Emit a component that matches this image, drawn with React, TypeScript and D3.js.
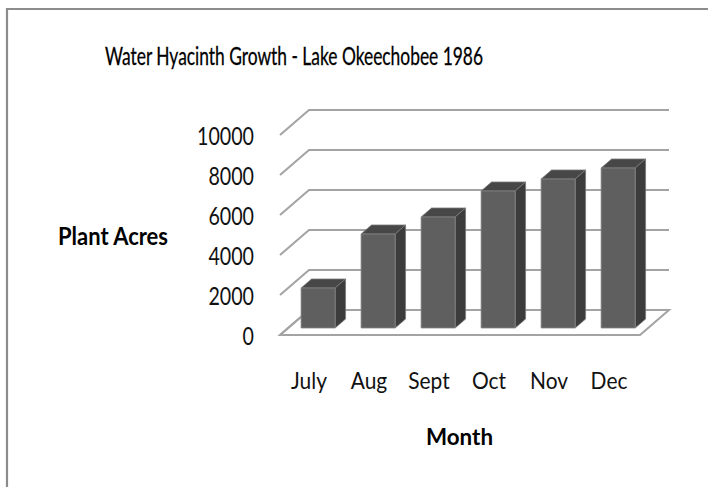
import React, { useEffect, useRef } from 'react';
import * as d3 from 'd3';

const months = ['July', 'Aug', 'Sept', 'Oct', 'Nov', 'Dec'];
const acres = [2000, 4700, 5550, 6850, 7450, 8000];
const yTicks = [0, 2000, 4000, 6000, 8000, 10000];

const App = () => {
  const chartRef = useRef<HTMLDivElement>(null);

  useEffect(() => {
    const width = 708;
    const height = 487;
    // oblique projection: front-left corner of floor, depth offset
    const ox = 280;
    const oy = 335;
    const depthX = 29;
    const depthY = 25;
    const font = 'Lato, "Open Sans", sans-serif';

    d3.select(chartRef.current).selectAll('svg').remove();

    const svg = d3.select(chartRef.current)
      .append('svg')
      .attr('width', width)
      .attr('height', height)
      .style('position', 'absolute')
      .style('left', '0px')
      .style('top', '0px');

    const x = d3.scaleBand().domain(months).range([0, 360]).paddingInner(0.433).paddingOuter(0.216);
    const y = d3.scaleLinear().domain([0, 10000]).range([0, 200]);

    // 3D -> screen
    const px = (u: number, z: number) => ox + u + z * depthX;
    const py = (v: number, z: number) => oy - y(v) - z * depthY;
    const pt = (u: number, v: number, z: number) => `${px(u, z)},${py(v, z)}`;

    // squeeze text horizontally (reference font is narrower than Lato)
    const squeeze = (sel: any, k: number) => {
      sel.each(function (this: SVGTextElement) {
        const w = this.getComputedTextLength();
        this.setAttribute('textLength', String(w * k));
        this.setAttribute('lengthAdjust', 'spacingAndGlyphs');
      });
    };

    svg.append('rect')
      .attr('x', 0).attr('y', 0).attr('width', width).attr('height', height)
      .attr('fill', 'white');

    // frame
    svg.append('path')
      .attr('d', `M7,${height} L7,9 L${width},9`)
      .attr('fill', 'none')
      .attr('stroke', '#8c8c8c')
      .attr('stroke-width', 2.2);

    // floor
    svg.append('polygon')
      .attr('points', [pt(0, 0, 0), pt(0, 0, 1), pt(360, 0, 1), pt(360, 0, 0)].join(' '))
      .attr('fill', 'white')
      .attr('stroke', '#a3a3a3')
      .attr('stroke-width', 2);

    // gridlines: side diagonal + back wall
    svg.selectAll('path.grid')
      .data(yTicks)
      .enter()
      .append('path')
      .attr('class', 'grid')
      .attr('d', d => `M${pt(0, d, 0)} L${pt(0, d, 1)} L${pt(360, d, 1)}`)
      .attr('fill', 'none')
      .attr('stroke', '#a3a3a3')
      .attr('stroke-width', 2);

    // tick labels
    svg.selectAll('text.tick')
      .data(yTicks)
      .enter()
      .append('text')
      .attr('class', 'tick')
      .attr('x', 254)
      .attr('y', d => py(d, 0) + 10)
      .attr('text-anchor', 'end')
      .attr('font-family', font)
      .attr('font-size', 25)
      .attr('textLength', d => String(d).length * 11.4)
      .attr('lengthAdjust', 'spacingAndGlyphs')
      .attr('fill', '#111')
      .text(d => String(d));

    // bars
    const z0 = 0.28;
    const z1 = 0.64;
    const bars = svg.selectAll('g.bar')
      .data(months.map((m, i) => ({ m, v: acres[i] })))
      .enter()
      .append('g')
      .attr('class', 'bar');

    bars.append('polygon')
      .attr('points', d => {
        const a = x(d.m)!;
        const b = a + x.bandwidth();
        return [pt(a, d.v, z0), pt(a, d.v, z1), pt(b, d.v, z1), pt(b, d.v, z0)].join(' ');
      })
      .attr('fill', '#474747')
      .attr('stroke', '#7a7a7a')
      .attr('stroke-width', 0.8);

    bars.append('polygon')
      .attr('points', d => {
        const b = x(d.m)! + x.bandwidth();
        return [pt(b, 0, z0), pt(b, d.v, z0), pt(b, d.v, z1), pt(b, 0, z1)].join(' ');
      })
      .attr('fill', '#3c3c3c')
      .attr('stroke', '#7a7a7a')
      .attr('stroke-width', 0.8);

    bars.append('polygon')
      .attr('points', d => {
        const a = x(d.m)!;
        const b = a + x.bandwidth();
        return [pt(a, 0, z0), pt(a, d.v, z0), pt(b, d.v, z0), pt(b, 0, z0)].join(' ');
      })
      .attr('fill', '#5f5f5f')
      .attr('stroke', '#858585')
      .attr('stroke-width', 0.8);

    // month labels
    const monthLabels = svg.selectAll('text.month')
      .data(months)
      .enter()
      .append('text')
      .attr('class', 'month')
      .attr('x', d => px(x(d)! + x.bandwidth() / 2, 0) - 1)
      .attr('y', 389)
      .attr('text-anchor', 'middle')
      .attr('font-family', font)
      .attr('font-size', 23)
      .attr('fill', '#111')
      .text(d => d);
    squeeze(monthLabels, 0.91);

    svg.append('text')
      .attr('x', 294)
      .attr('y', 65)
      .attr('text-anchor', 'middle')
      .attr('font-family', font)
      .attr('font-size', 25)
      .attr('textLength', 378)
      .attr('lengthAdjust', 'spacingAndGlyphs')
      .attr('fill', '#000')
      .attr('stroke', '#000')
      .attr('stroke-width', 0.3)
      .text('Water Hyacinth Growth - Lake Okeechobee 1986');

    svg.append('text')
      .attr('x', 58)
      .attr('y', 245)
      .attr('font-family', font)
      .attr('font-weight', 'bold')
      .attr('font-size', 24)
      .attr('textLength', 110)
      .attr('lengthAdjust', 'spacingAndGlyphs')
      .attr('fill', '#000')
      .text('Plant Acres');

    svg.append('text')
      .attr('x', 459.5)
      .attr('y', 445)
      .attr('text-anchor', 'middle')
      .attr('font-family', font)
      .attr('font-weight', 'bold')
      .attr('font-size', 23)
      .attr('textLength', 67)
      .attr('lengthAdjust', 'spacingAndGlyphs')
      .attr('fill', '#000')
      .text('Month');
  }, []);

  return <div ref={chartRef}></div>;
};

export default App;
